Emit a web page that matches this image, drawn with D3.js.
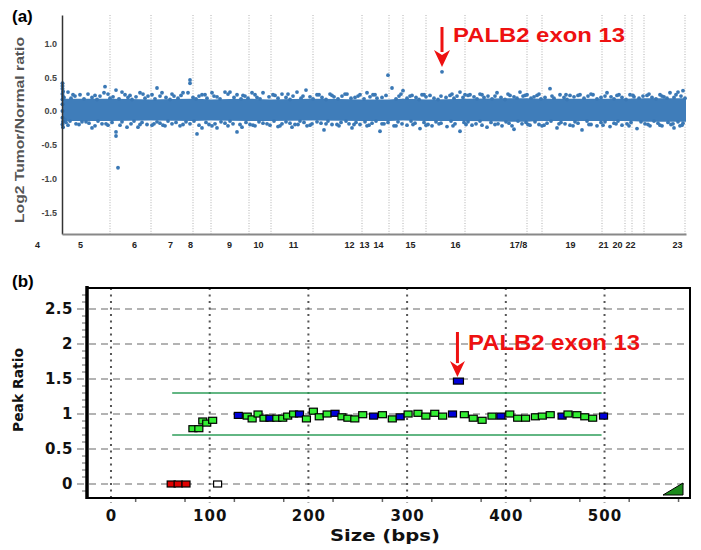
<!DOCTYPE html>
<html>
<head>
<meta charset="utf-8">
<script src="https://cdn.jsdelivr.net/npm/d3@7"></script>
<style>
  body { margin: 0; background: #fff; }
  svg { display: block; }
</style>
</head>
<body>
<div id="chart"></div>
<script>
/** panel (a): chromosome boundaries and labels, in probe index units */
const chrBounds = [48, 89, 131, 149, 187, 209, 251, 300, 327, 341, 364, 403, 465, 480, 540, 563, 570, 582, 623];
const chrLabels = ["4", "5", "6", "7", "8", "9", "10", "11", "12", "13", "14", "15", "16", "17/8", "19", "21", "20", "22", "23"];
const chrLabelPos = [-25, 18, 72, 108, 128, 167, 196, 231, 287, 302, 316, 348, 393, 456, 508, 541, 555, 568, 615];
const ratioTicks = [1.0, 0.5, 0.0, -0.5, -1.0, -1.5];

/** dense core of the log2 ratio cloud */
const coreX = [0, 48, 89, 131, 149, 187, 209, 251, 300, 327, 341, 364, 403, 465, 480, 540, 563, 582, 624];
const coreHi = [0.18, 0.18, 0.17, 0.18, 0.17, 0.18, 0.17, 0.18, 0.17, 0.17, 0.18, 0.17, 0.18, 0.19, 0.18, 0.18, 0.18, 0.19, 0.19];
const coreLo = [-0.15, -0.15, -0.14, -0.15, -0.14, -0.15, -0.15, -0.14, -0.15, -0.15, -0.14, -0.15, -0.15, -0.16, -0.15, -0.15, -0.15, -0.16, -0.16];

/** probes on the core edge */
const edgeDots = [
  [2,0.2],[9,0.19],[13,0.22],[22,0.18],[30,0.2],[35,0.17],[38,0.22],[48,0.19],[51,0.21],[57,0.18],[66,0.2],[70,0.17],[74,0.21],[83,0.19],[86,0.22],[93,0.18],[104,0.2],[108,0.17],[112,0.22],[116,0.19],[131,0.2],[134,0.18],[137,0.22],[145,0.19],[155,0.21],[158,0.18],[172,0.2],[179,0.18],[183,0.22],[186,0.19],[195,0.2],[198,0.18],[207,0.21],[216,0.19],[224,0.2],[228,0.17],[231,0.22],[239,0.19],[248,0.21],[251,0.18],[260,0.2],[264,0.17],[272,0.21],[276,0.18],[280,0.22],[289,0.19],[293,0.2],[302,0.18],[308,0.21],[315,0.19],[320,0.2],[334,0.18],[337,0.22],[345,0.19],[354,0.2],[357,0.17],[364,0.21],[372,0.19],[376,0.17],[384,0.2],[392,0.19],[395,0.22],[401,0.2],[412,0.21],[415,0.18],[422,0.2],[426,0.22],[430,0.18],[439,0.2],[443,0.17],[452,0.21],[455,0.19],[461,0.22],[469,0.19],[472,0.21],[479,0.18],[483,0.2],[492,0.19],[502,0.2],[505,0.17],[512,0.21],[522,0.19],[526,0.22],[535,0.18],[539,0.2],[549,0.21],[552,0.18],[560,0.2],[564,0.17],[572,0.21],[577,0.19],[581,0.22],[590,0.2],[594,0.18],[602,0.21],[605,0.19],[612,0.2],[619,0.22],[623,0.19],
  [4,-0.17],[8,-0.15],[14,-0.19],[24,-0.16],[27,-0.18],[36,-0.15],[40,-0.19],[50,-0.17],[60,-0.16],[69,-0.19],[72,-0.15],[80,-0.17],[85,-0.2],[95,-0.16],[98,-0.18],[106,-0.15],[110,-0.19],[114,-0.17],[124,-0.16],[128,-0.19],[132,-0.15],[144,-0.17],[147,-0.2],[159,-0.16],[163,-0.18],[168,-0.15],[171,-0.19],[184,-0.17],[188,-0.2],[197,-0.16],[201,-0.18],[212,-0.15],[220,-0.19],[224,-0.16],[228,-0.18],[233,-0.2],[238,-0.15],[242,-0.17],[250,-0.19],[255,-0.16],[259,-0.18],[266,-0.15],[270,-0.2],[279,-0.17],[284,-0.15],[287,-0.19],[294,-0.17],[298,-0.2],[303,-0.16],[310,-0.18],[314,-0.15],[322,-0.19],[326,-0.17],[336,-0.16],[340,-0.19],[349,-0.15],[353,-0.18],[362,-0.17],[366,-0.2],[374,-0.16],[379,-0.18],[389,-0.15],[393,-0.19],[402,-0.17],[406,-0.16],[414,-0.19],[418,-0.15],[429,-0.17],[433,-0.2],[444,-0.16],[447,-0.18],[456,-0.15],[460,-0.19],[464,-0.17],[473,-0.16],[477,-0.2],[485,-0.18],[489,-0.15],[499,-0.17],[503,-0.19],[513,-0.16],[516,-0.18],[525,-0.15],[529,-0.2],[539,-0.17],[543,-0.16],[552,-0.18],[556,-0.15],[565,-0.19],[569,-0.17],[579,-0.16],[583,-0.19],[592,-0.15],[596,-0.18],[606,-0.17],[609,-0.2],[616,-0.16],[621,-0.18]
];

/** probes just outside the edge */
const midDots = [
  [11,0.24],[33,0.23],[46,0.25],[68,0.23],[81,0.25],[98,0.22],[110,0.25],[119,0.23],[143,0.24],[152,0.22],[166,0.25],[181,0.23],[193,0.24],[213,0.23],[226,0.25],[241,0.22],[257,0.24],[270,0.23],[283,0.25],[296,0.22],[313,0.24],[324,0.23],[339,0.25],[348,0.22],[362,0.24],[379,0.22],[390,0.25],[406,0.23],[420,0.24],[433,0.22],[446,0.25],[463,0.23],[477,0.25],[490,0.22],[504,0.24],[516,0.23],[529,0.25],[543,0.22],[557,0.24],[571,0.23],[587,0.25],[600,0.22],[614,0.24],
  [6,-0.21],[17,-0.2],[33,-0.22],[44,-0.19],[58,-0.21],[78,-0.2],[92,-0.19],[103,-0.22],[121,-0.2],[137,-0.21],[153,-0.19],[166,-0.22],[178,-0.2],[191,-0.21],[205,-0.19],[218,-0.22],[236,-0.2],[248,-0.21],[264,-0.19],[277,-0.22],[292,-0.2],[307,-0.21],[320,-0.19],[334,-0.22],[351,-0.2],[364,-0.21],[377,-0.19],[391,-0.22],[404,-0.2],[420,-0.21],[436,-0.19],[450,-0.22],[466,-0.2],[482,-0.21],[497,-0.19],[511,-0.22],[527,-0.2],[541,-0.21],[554,-0.19],[567,-0.22],[586,-0.2],[598,-0.21],[611,-0.19],[618,-0.22]
];

/** probes further out */
const outerDots = [
  [6,0.28],[18,0.24],[26,0.25],[43,0.36],[42,0.27],[54,0.31],[60,0.28],[63,0.24],[78,0.27],[90,0.24],[95,0.34],[100,0.27],[121,0.27],[126,0.27],[128,0.46],[128,0.41],[140,0.24],[150,0.27],[163,0.28],[168,0.28],[175,0.24],[190,0.27],[201,0.27],[211,0.24],[220,0.25],[235,0.28],[244,0.31],[255,0.24],[268,0.25],[285,0.25],[298,0.24],[305,0.27],[311,0.24],[326,0.53],[330,0.34],[341,0.3],[350,0.23],[360,0.24],[368,0.23],[388,0.23],[398,0.28],[403,0.24],[408,0.24],[418,0.25],[435,0.27],[448,0.23],[458,0.28],[465,0.24],[475,0.23],[488,0.33],[498,0.24],[508,0.23],[518,0.24],[531,0.24],[545,0.27],[555,0.23],[568,0.24],[585,0.23],[598,0.24],[608,0.27],[616,0.28],[621,0.3],
  [3,-0.13],[20,-0.16],[30,-0.25],[46,-0.21],[54,-0.31],[54,-0.37],[56,-0.84],[65,-0.24],[76,-0.24],[90,-0.21],[101,-0.21],[118,-0.22],[135,-0.34],[140,-0.25],[150,-0.22],[155,-0.25],[175,-0.31],[180,-0.24],[193,-0.22],[208,-0.21],[216,-0.23],[230,-0.24],[245,-0.22],[262,-0.28],[275,-0.2],[290,-0.25],[305,-0.22],[318,-0.3],[332,-0.22],[345,-0.21],[358,-0.26],[370,-0.22],[385,-0.23],[398,-0.3],[410,-0.21],[425,-0.24],[440,-0.22],[452,-0.27],[468,-0.21],[480,-0.22],[495,-0.25],[508,-0.21],[520,-0.28],[535,-0.22],[548,-0.23],[560,-0.21],[575,-0.26],[588,-0.22],[600,-0.22],[612,-0.25],[620,-0.21]
];

/** dense column of probes at the start of the track */
const startDots = [
  [0.5,0.41],[0.5,0.37],[0.5,0.33],[1,0.29],[0.5,0.25],[1,0.21],[0.5,0.17],[0.5,0.1],[0.5,0.0],[0.5,-0.1],[1,-0.16],[0.5,-0.2],[1,-0.24]
];
const palb2Probe = [380, 0.58];

/** panel (b): MLPA peaks */
const peakSize = [61, 68, 76, 108, 83, 89, 93, 97, 103,
  129, 138, 143, 149, 155, 161, 168, 174, 179, 185, 191, 198, 205, 211, 219, 227, 234, 240, 247, 255, 266, 275, 285, 293, 301, 311, 319, 328, 336, 346,
  351, 358, 367, 376, 386, 395, 404, 412, 420, 430, 437, 445, 457, 463, 472, 480, 488, 499];
const peakRatio = [0, 0, 0, 0, 0.79, 0.79, 0.9, 0.87, 0.91,
  0.98, 0.97, 0.93, 1.0, 0.94, 0.94, 0.94, 0.94, 0.97, 1.0, 1.0, 0.93, 1.04, 0.96, 1.0, 1.01, 0.96, 0.94, 0.93, 0.99, 0.97, 0.99, 0.93, 0.96, 1.0, 1.01, 0.97, 1.01, 0.97, 1.0,
  1.47, 0.99, 0.94, 0.91, 0.97, 0.97, 1.0, 0.94, 0.94, 0.96, 0.97, 0.99, 0.97, 1.0, 0.99, 0.96, 0.94, 0.97];
const peakKind = ["r", "r", "r", "w", "g", "g", "g", "g", "g",
  "b", "g", "g", "g", "g", "b", "g", "g", "g", "g", "b", "g", "g", "g", "g", "b", "g", "g", "g", "g", "b", "g", "g", "b", "g", "g", "g", "g", "g", "b",
  "b", "g", "g", "g", "g", "b", "g", "g", "g", "g", "g", "g", "b", "g", "g", "g", "g", "b"];
const limitHi = 1.3;
const limitLo = 0.7;
const limitRange = [62, 497];
const bTicksY = [0, 0.5, 1, 1.5, 2, 2.5];
const bTicksX = [0, 100, 200, 300, 400, 500];

const kindFill = { r: "#e00000", w: "#ffffff", g: "#33ee33", b: "#0000d8" };
const red = "#ee1111";

const svg = d3.select("#chart").append("svg").attr("width", 701).attr("height", 550);
svg.append("rect").attr("width", 701).attr("height", 550).attr("fill", "#fff");

/** ---------- panel (a) ---------- */
const xA = d3.scaleLinear().domain([0, 624]).range([62, 686]);
const yA = d3.scaleLinear().domain([-1.82, 1.42]).range([234, 15]);

svg.append("text").text("(a)").attr("x", 12).attr("y", 22)
  .attr("font-family", "Liberation Sans, Arial").attr("font-weight", "bold").attr("font-size", 17);

/** chromosome boundaries */
svg.append("g").selectAll("line").data(chrBounds).join("line")
  .attr("x1", (d) => xA(d)).attr("x2", (d) => xA(d))
  .attr("y1", yA.range()[1]).attr("y2", yA.range()[0])
  .attr("stroke", "#b0b0b0").attr("stroke-width", 1).attr("stroke-dasharray", "1,1.6");

/** core band */
const core = coreX.map((x, i) => ({ x, hi: coreHi[i], lo: coreLo[i] }));
svg.append("path").datum(core)
  .attr("fill", "#3f7dba")
  .attr("d", d3.area().curve(d3.curveMonotoneX).x((d) => xA(d.x)).y0((d) => yA(d.lo)).y1((d) => yA(d.hi)));

/** probes */
svg.append("g").selectAll("circle").data(edgeDots.concat(midDots, outerDots, [palb2Probe])).join("circle")
  .attr("cx", (d) => xA(d[0])).attr("cy", (d) => yA(d[1])).attr("r", 1.9)
  .attr("fill", "#3a78b5");
svg.append("g").selectAll("circle").data(startDots).join("circle")
  .attr("cx", (d) => xA(d[0])).attr("cy", (d) => yA(d[1])).attr("r", 2)
  .attr("fill", "#2f6aa3");

/** axes */
const yAxisA = svg.append("g").attr("transform", `translate(${xA(0)},0)`)
  .call(d3.axisLeft(yA).tickValues(ratioTicks).tickFormat((d) => d.toFixed(1)).tickSize(0).tickPadding(5));
yAxisA.select(".domain").attr("stroke", "#333").attr("stroke-width", 1.5);
yAxisA.selectAll("text").attr("font-family", "Liberation Sans, Arial").attr("font-weight", "bold")
  .attr("font-size", 9).attr("fill", "#444");

const xAxisA = svg.append("g").attr("transform", `translate(0,${yA.range()[0]})`)
  .call(d3.axisBottom(xA).tickValues(chrLabelPos).tickFormat((d, i) => chrLabels[i]).tickSize(0).tickPadding(8));
xAxisA.select(".domain").attr("stroke", "#888").attr("stroke-width", 2.2);
xAxisA.selectAll("text").attr("font-family", "Liberation Sans, Arial").attr("font-weight", "bold")
  .attr("font-size", 9).attr("fill", "#222");

svg.append("text").text("Log2 Tumor/Normal ratio")
  .attr("transform", "translate(24,130) rotate(-90)")
  .attr("text-anchor", "middle").attr("textLength", 186).attr("lengthAdjust", "spacingAndGlyphs")
  .attr("font-family", "Liberation Sans, Arial").attr("font-weight", "bold").attr("font-size", 13)
  .attr("fill", "#555");

/** annotation arrow + label */
const arrow = (g, x, yTop, yTip, w, hh) => {
  g.append("line").attr("x1", x).attr("x2", x).attr("y1", yTop).attr("y2", yTip - hh + 2)
    .attr("stroke", red).attr("stroke-width", 3);
  g.append("path").attr("d", `M${x - w / 2},${yTip - hh} L${x},${yTip} L${x + w / 2},${yTip - hh} L${x},${yTip - hh + 5} Z`)
    .attr("fill", red);
};
arrow(svg, xA(palb2Probe[0]), 27, 67, 16, 17);
svg.append("text").text("PALB2 exon 13").attr("x", 453).attr("y", 42)
  .attr("textLength", 172).attr("lengthAdjust", "spacingAndGlyphs")
  .attr("font-family", "Liberation Sans, Arial").attr("font-weight", "bold").attr("font-size", 21).attr("fill", red);

/** ---------- panel (b) ---------- */
const xB = d3.scaleLinear().domain([-24.3, 586.6]).range([87, 690]);
const yB = d3.scaleLinear().domain([-0.2, 2.8]).range([498, 288]);
const [bx0, bx1] = xB.range();
const [by0, by1] = yB.range();

svg.append("text").text("(b)").attr("x", 12).attr("y", 287)
  .attr("font-family", "Liberation Sans, Arial").attr("font-weight", "bold").attr("font-size", 17);

/** horizontal dashed grid */
svg.append("g").selectAll("line").data(bTicksY).join("line")
  .attr("x1", bx0 - 10).attr("x2", bx1).attr("y1", (d) => yB(d)).attr("y2", (d) => yB(d))
  .attr("stroke", "#9a9a9a").attr("stroke-width", 1.6).attr("stroke-dasharray", "7,5");

/** vertical dotted grid */
svg.append("g").selectAll("line").data(bTicksX).join("line")
  .attr("x1", (d) => xB(d)).attr("x2", (d) => xB(d)).attr("y1", by1).attr("y2", by0 + 5)
  .attr("stroke", "#555").attr("stroke-width", 2).attr("stroke-dasharray", "2,4.5");

/** minor ticks */
svg.append("g").selectAll("line").data(d3.range(-0.1, 2.75, 0.1).filter((d) => Math.abs(d * 2 - Math.round(d * 2)) > 0.01)).join("line")
  .attr("x1", bx0 - 5).attr("x2", bx0).attr("y1", (d) => yB(d)).attr("y2", (d) => yB(d))
  .attr("stroke", "#666").attr("stroke-width", 1);
svg.append("g").selectAll("line").data(d3.range(25, 586, 50)).join("line")
  .attr("x1", (d) => xB(d)).attr("x2", (d) => xB(d)).attr("y1", by0).attr("y2", by0 + 4)
  .attr("stroke", "#666").attr("stroke-width", 1.5);

/** limit lines */
svg.append("g").selectAll("line").data([limitHi, limitLo]).join("line")
  .attr("x1", xB(limitRange[0])).attr("x2", xB(limitRange[1]))
  .attr("y1", (d) => yB(d)).attr("y2", (d) => yB(d))
  .attr("stroke", "#2e9e5a").attr("stroke-width", 1.6);

/** frame */
svg.append("rect").attr("x", bx0).attr("y", by1).attr("width", bx1 - bx0).attr("height", by0 - by1)
  .attr("fill", "none").attr("stroke", "#000").attr("stroke-width", 2);
svg.append("line").attr("x1", bx0).attr("x2", bx0).attr("y1", by1 - 2).attr("y2", by0 + 1)
  .attr("stroke", "#000").attr("stroke-width", 3.5);

/** peaks */
const peaks = peakSize.map((s, i) => ({ s, r: peakRatio[i], k: peakKind[i] }));
svg.append("g").selectAll("rect").data(peaks).join("rect")
  .attr("x", (d) => xB(d.s) - 4).attr("y", (d) => yB(d.r) - 3)
  .attr("width", (d) => (d.s === 351 ? 10 : 8)).attr("height", 6)
  .attr("fill", (d) => kindFill[d.k]).attr("stroke", "#000").attr("stroke-width", 1.2);

/** axes labels */
const yAxisB = svg.append("g").attr("transform", `translate(${bx0 - 12},0)`)
  .call(d3.axisLeft(yB).tickValues(bTicksY).tickFormat((d) => String(d)).tickSize(0).tickPadding(2));
yAxisB.select(".domain").remove();
yAxisB.selectAll("text").attr("font-family", "DejaVu Sans, Verdana").attr("font-weight", "bold")
  .attr("font-size", 15).attr("fill", "#111").attr("letter-spacing", 0.5);

const xAxisB = svg.append("g").attr("transform", `translate(0,${by0})`)
  .call(d3.axisBottom(xB).tickValues(bTicksX).tickFormat((d) => String(d)).tickSize(0).tickPadding(12));
xAxisB.select(".domain").remove();
xAxisB.selectAll("text").attr("font-family", "DejaVu Sans, Verdana").attr("font-weight", "bold")
  .attr("font-size", 15).attr("fill", "#111").attr("letter-spacing", 1);

svg.append("text").text("Size (bps)").attr("x", 385).attr("y", 541).attr("text-anchor", "middle")
  .attr("textLength", 110).attr("lengthAdjust", "spacingAndGlyphs")
  .attr("font-family", "DejaVu Sans, Verdana").attr("font-weight", "bold").attr("font-size", 15).attr("fill", "#111");

svg.append("text").text("Peak Ratio")
  .attr("transform", "translate(23,390) rotate(-90)").attr("text-anchor", "middle")
  .attr("textLength", 84).attr("lengthAdjust", "spacingAndGlyphs")
  .attr("font-family", "DejaVu Sans, Verdana").attr("font-weight", "bold").attr("font-size", 14).attr("fill", "#111");

/** resize grip */
svg.append("path").attr("d", `M${bx1 - 27},${by0 - 3} L${bx1 - 7},${by0 - 3} L${bx1 - 7},${by0 - 15} Z`)
  .attr("fill", "#1c8a1c").attr("stroke", "#000").attr("stroke-width", 1);

/** annotation in (b) */
const pal = peaks.find((d) => d.r > 1.3);
arrow(svg, xB(pal.s), 332, yB(pal.r) - 4, 15, 16);
svg.append("text").text("PALB2 exon 13").attr("x", 468).attr("y", 350)
  .attr("textLength", 172).attr("lengthAdjust", "spacingAndGlyphs")
  .attr("font-family", "Liberation Sans, Arial").attr("font-weight", "bold").attr("font-size", 22).attr("fill", red);
</script>
</body>
</html>
